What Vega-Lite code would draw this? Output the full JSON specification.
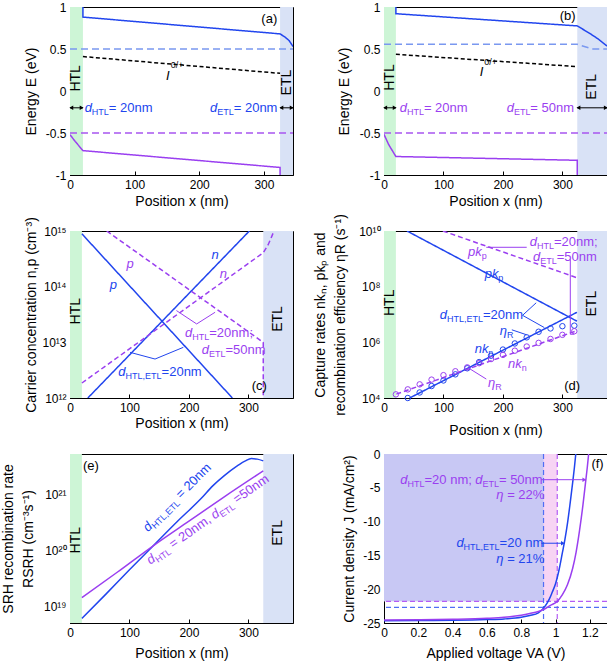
{
"$schema":"https://vega.github.io/schema/vega-lite/v6.json",
"background":"white",
"padding":0,
"autosize":{"type":"pad"},
"columns":2,
"spacing":{"row":56,"column":91},
"bounds":"flush",
"config":{
 "font":"Liberation Sans",
 "view":{"stroke":"#000","strokeWidth":1},
 "axis":{"grid":false,"labelFontSize":12,"titleFontSize":14,"titleFontWeight":"normal","labelColor":"#000","titleColor":"#000","tickColor":"#000","domainColor":"#000","tickSize":-4,"labelPadding":8,"titlePadding":3,"labelFlush":false,"labelOverlap":false,"titleLineHeight":20},
 "axisX":{"labelOverlap":false},
 "axisY":{"labelOverlap":false},
 "text":{"font":"Liberation Sans"}
},
"datasets":{
 "reg_a":[{"x":0,"x2":20,"r":"HTL"},{"x":325,"x2":345,"r":"ETL"}],
 "reg_b":[{"x":0,"x2":20,"r":"HTL"},{"x":325,"x2":375,"r":"ETL"}],
 "ln_a":[{"s":"Ec","i":0,"x":20,"y":1.0},{"s":"Ec","i":1,"x":20,"y":0.88},{"s":"Ec","i":2,"x":325,"y":0.68},{"s":"Ec","i":3,"x":333,"y":0.64},{"s":"Ec","i":4,"x":339,"y":0.6},{"s":"Ec","i":5,"x":345,"y":0.53},
  {"s":"EFn","i":0,"x":0,"y":0.5},{"s":"EFn","i":1,"x":345,"y":0.5},
  {"s":"trap","i":0,"x":20,"y":0.41},{"s":"trap","i":1,"x":325,"y":0.21},
  {"s":"EFp","i":0,"x":0,"y":-0.5},{"s":"EFp","i":1,"x":345,"y":-0.5},
  {"s":"Ev","i":0,"x":0,"y":-0.52},{"s":"Ev","i":1,"x":8,"y":-0.6},{"s":"Ev","i":2,"x":20,"y":-0.71},{"s":"Ev","i":3,"x":325,"y":-0.91},{"s":"Ev","i":4,"x":325,"y":-1.0}],
 "ln_b":[{"s":"Ec","i":0,"x":20,"y":1.0},{"s":"Ec","i":1,"x":20,"y":0.92},{"s":"Ec","i":2,"x":325,"y":0.775},{"s":"Ec","i":3,"x":345,"y":0.69},{"s":"Ec","i":4,"x":360,"y":0.62},{"s":"Ec","i":5,"x":375,"y":0.535},
  {"s":"EFn","i":0,"x":0,"y":0.556},{"s":"EFn","i":1,"x":325,"y":0.556},{"s":"EFn","i":2,"x":350,"y":0.5},{"s":"EFn","i":3,"x":375,"y":0.5},
  {"s":"trap","i":0,"x":20,"y":0.437},{"s":"trap","i":1,"x":325,"y":0.29},
  {"s":"EFp","i":0,"x":0,"y":-0.5},{"s":"EFp","i":1,"x":375,"y":-0.5},
  {"s":"Ev","i":0,"x":0,"y":-0.516},{"s":"Ev","i":1,"x":8,"y":-0.64},{"s":"Ev","i":2,"x":20,"y":-0.78},{"s":"Ev","i":3,"x":325,"y":-0.825},{"s":"Ev","i":4,"x":325,"y":-1.0}],
 "arr_a":[{"x":0,"x2":20,"y":-0.2},{"x":325,"x2":345,"y":-0.2}],
 "hd_a":[{"x":2,"y":-0.2,"d":"L"},{"x":18,"y":-0.2,"d":"R"},{"x":327,"y":-0.2,"d":"L"},{"x":343,"y":-0.2,"d":"R"}],
 "arr_b":[{"x":0,"x2":20,"y":-0.2},{"x":325,"x2":375,"y":-0.2}],
 "hd_b":[{"x":2,"y":-0.2,"d":"L"},{"x":18,"y":-0.2,"d":"R"},{"x":327,"y":-0.2,"d":"L"},{"x":373,"y":-0.2,"d":"R"}],
 "tx_a":[{"x":22.7,"y":-0.2,"t":"d","k":"i","g":"20nm"},{"x":33.8,"y":-0.2,"t":"HTL","k":"s","g":"20nm"},{"x":60.1,"y":-0.2,"t":"= 20nm","k":"m","g":"20nm"},
  {"x":216.7,"y":-0.2,"t":"d","k":"i","g":"20nm"},{"x":227.8,"y":-0.2,"t":"ETL","k":"s","g":"20nm"},{"x":253.3,"y":-0.2,"t":"= 20nm","k":"m","g":"20nm"},
  {"x":148.6,"y":0.18,"t":"I","k":"i","g":"other"},{"x":156,"y":0.31,"t":"0/+","k":"p","g":"other"},
  {"x":296,"y":0.853,"t":"(a)","k":"m","g":"other"}],
 "tx_b":[{"x":26.4,"y":-0.2,"t":"d","k":"i","g":"50nm"},{"x":38.5,"y":-0.2,"t":"HTL","k":"s","g":"50nm"},{"x":67.1,"y":-0.2,"t":"= 20nm","k":"m","g":"50nm"},
  {"x":206.3,"y":-0.2,"t":"d","k":"i","g":"50nm"},{"x":218.4,"y":-0.2,"t":"ETL","k":"s","g":"50nm"},{"x":246.1,"y":-0.2,"t":"= 50nm","k":"m","g":"50nm"},
  {"x":161,"y":0.23,"t":"I","k":"i","g":"other"},{"x":168.5,"y":0.35,"t":"0/+","k":"p","g":"other"},
  {"x":295.4,"y":0.89,"t":"(b)","k":"m","g":"other"}],
 "lay_a":[{"x":10,"y":0.15,"t":"HTL"},{"x":335,"y":0.1,"t":"ETL"}],
 "lay_b":[{"x":10,"y":0.16,"t":"HTL"},{"x":350,"y":0.05,"t":"ETL"}],
 "lay_c":[{"x":10,"y":3.63e13,"t":"HTL"},{"x":350,"y":2.63e13,"t":"ETL"}],
 "lay_d":[{"x":10,"y":2.63e7,"t":"HTL"},{"x":350,"y":2.45e7,"t":"ETL"}],
 "lay_e":[{"x":10,"y":1.55e20,"t":"HTL"},{"x":350,"y":2.09e20,"t":"ETL"}],
 "ln_c":[{"s":"p20","i":0,"x":20,"y":8.9e14},{"s":"p20","i":1,"x":273,"y":1e12},
  {"s":"n20","i":0,"x":30,"y":1e12},{"s":"n20","i":1,"x":301.6,"y":1e15},
  {"s":"p50","i":0,"x":61.7,"y":1e15},{"s":"p50","i":1,"x":325,"y":1e13},{"s":"p50","i":2,"x":325,"y":1e12},
  {"s":"n50","i":0,"x":20,"y":1.86e12},{"s":"n50","i":1,"x":325,"y":4.07e14},{"s":"n50","i":2,"x":333,"y":5.6e14},{"s":"n50","i":3,"x":338,"y":7.4e14},{"s":"n50","i":4,"x":343,"y":1e15}],
 "an_c":[{"seg":1,"g":"50nm","i":0,"x":179,"y":3.72e13},{"seg":1,"g":"50nm","i":1,"x":213,"y":2.14e13},{"seg":1,"g":"50nm","i":2,"x":244,"y":3.47e13},
  {"seg":2,"g":"20nm","i":0,"x":101,"y":6.61e12},{"seg":2,"g":"20nm","i":1,"x":143,"y":5.01e12},{"seg":2,"g":"20nm","i":2,"x":190.6,"y":8.13e12}],
 "tx_c":[{"x":237.8,"y":3.63e14,"t":"n","k":"i","g":"20nm"},{"x":66.9,"y":1.05e14,"t":"p","k":"i","g":"20nm"},
  {"x":94.9,"y":2.57e14,"t":"p","k":"i","g":"50nm"},{"x":251.8,"y":1.7e14,"t":"n","k":"i","g":"50nm"},
  {"x":193.4,"y":1.45e13,"t":"d","k":"i","g":"50nm"},{"x":205.6,"y":1.45e13,"t":"HTL","k":"s","g":"50nm"},{"x":234.2,"y":1.45e13,"t":"=20nm;","k":"m","g":"50nm"},
  {"x":221.4,"y":7.3e12,"t":"d","k":"i","g":"50nm"},{"x":233.6,"y":7.3e12,"t":"ETL","k":"s","g":"50nm"},{"x":261.3,"y":7.3e12,"t":"=50nm","k":"m","g":"50nm"},
  {"x":81.3,"y":2.88e12,"t":"d","k":"i","g":"20nm"},{"x":93.5,"y":2.88e12,"t":"HTL,ETL","k":"s","g":"20nm"},{"x":154,"y":2.88e12,"t":"=20nm","k":"m","g":"20nm"},
  {"x":305.5,"y":1.66e12,"t":"(c)","k":"m","g":"other"}],
 "ln_d":[{"s":"pk20","i":0,"x":38.7,"y":1e10},{"s":"pk20","i":1,"x":324.5,"y":5.75e6},
  {"s":"nk20","i":0,"x":43,"y":1e4},{"s":"nk20","i":1,"x":324.5,"y":1.2e7},
  {"s":"pk50","i":0,"x":99,"y":1e10},{"s":"pk50","i":1,"x":324.5,"y":2.09e8},
  {"s":"nk50","i":0,"x":20.7,"y":1.38e4},{"s":"nk50","i":1,"x":324.5,"y":2.63e6}],
 "an_d":[{"seg":1,"g":"20nm","i":0,"x":255.9,"y":2.63e7},{"seg":1,"g":"20nm","i":1,"x":233,"y":9.33e6},{"seg":1,"g":"20nm","i":2,"x":269.6,"y":3.39e6},
  {"seg":2,"g":"20nm","i":0,"x":215,"y":2.82e6},{"seg":2,"g":"20nm","i":1,"x":240,"y":1.86e6},
  {"seg":3,"g":"50nm","i":0,"x":172,"y":2.6e9},{"seg":3,"g":"50nm","i":1,"x":240,"y":2.6e9},
  {"seg":4,"g":"50nm","i":0,"x":313.3,"y":9.55e8},{"seg":4,"g":"50nm","i":1,"x":313.3,"y":1.95e6},{"seg":4,"g":"50nm","i":2,"x":320,"y":1.95e6},
  {"seg":5,"g":"50nm","i":0,"x":142,"y":1.2e5},{"seg":5,"g":"50nm","i":1,"x":172,"y":4.79e4}],
 "ci_d":[{"g":"20nm","x":40,"y":1e4},{"g":"20nm","x":60,"y":1.58e4},{"g":"20nm","x":80,"y":2.69e4},{"g":"20nm","x":100,"y":4.27e4},{"g":"20nm","x":120,"y":7.08e4},{"g":"20nm","x":140,"y":1.17e5},{"g":"20nm","x":160,"y":1.95e5},{"g":"20nm","x":180,"y":3.31e5},{"g":"20nm","x":200,"y":5.5e5},{"g":"20nm","x":220,"y":9.12e5},{"g":"20nm","x":240,"y":1.51e6},{"g":"20nm","x":260,"y":2.4e6},{"g":"20nm","x":280,"y":3.16e6},{"g":"20nm","x":300,"y":3.8e6},{"g":"20nm","x":320,"y":3.98e6},
  {"g":"50nm","x":20,"y":1.35e4},{"g":"50nm","x":40,"y":2.04e4},{"g":"50nm","x":60,"y":3.09e4},{"g":"50nm","x":80,"y":4.57e4},{"g":"50nm","x":100,"y":6.61e4},{"g":"50nm","x":120,"y":9.12e4},{"g":"50nm","x":140,"y":1.26e5},{"g":"50nm","x":160,"y":1.78e5},{"g":"50nm","x":180,"y":2.51e5},{"g":"50nm","x":200,"y":3.55e5},{"g":"50nm","x":220,"y":5.01e5},{"g":"50nm","x":240,"y":7.08e5},{"g":"50nm","x":260,"y":9.55e5},{"g":"50nm","x":280,"y":1.32e6},{"g":"50nm","x":300,"y":1.86e6},{"g":"50nm","x":320,"y":2.51e6}],
 "tx_d":[{"x":141.3,"y":1.74e9,"t":"pk","k":"i","g":"50nm"},{"x":164.3,"y":1.74e9,"t":"p","k":"s","g":"50nm"},
  {"x":169.3,"y":2.88e8,"t":"pk","k":"i","g":"20nm"},{"x":192.3,"y":2.88e8,"t":"p","k":"s","g":"20nm"},
  {"x":93.6,"y":9.77e6,"t":"d","k":"i","g":"20nm"},{"x":105.8,"y":9.77e6,"t":"HTL,ETL","k":"s","g":"20nm"},{"x":166.3,"y":9.77e6,"t":"=20nm","k":"m","g":"20nm"},
  {"x":194.5,"y":2.63e6,"t":"η","k":"i","g":"20nm"},{"x":206.7,"y":2.63e6,"t":"R","k":"s","g":"20nm"},
  {"x":152.5,"y":5.75e5,"t":"nk","k":"i","g":"20nm"},{"x":175.5,"y":5.75e5,"t":"n","k":"s","g":"20nm"},
  {"x":208.5,"y":1.66e5,"t":"nk","k":"i","g":"50nm"},{"x":231.5,"y":1.66e5,"t":"n","k":"s","g":"50nm"},
  {"x":175,"y":3.39e4,"t":"η","k":"i","g":"50nm"},{"x":187.2,"y":3.39e4,"t":"R","k":"s","g":"50nm"},
  {"x":245,"y":4.1e9,"t":"d","k":"i","g":"50nm"},{"x":257.2,"y":4.1e9,"t":"HTL","k":"s","g":"50nm"},{"x":285.8,"y":4.1e9,"t":"=20nm;","k":"m","g":"50nm"},
  {"x":250.6,"y":1.2e9,"t":"d","k":"i","g":"50nm"},{"x":262.8,"y":1.2e9,"t":"ETL","k":"s","g":"50nm"},{"x":290.5,"y":1.2e9,"t":"=50nm","k":"m","g":"50nm"},
  {"x":303,"y":2.75e4,"t":"(d)","k":"m","g":"other"}],
 "ln_e":[{"s":"r20","x":20,"y":6.17e18},{"s":"r20","x":60,"y":1.66e19},{"s":"r20","x":100,"y":4.57e19},{"s":"r20","x":140,"y":1.23e20},{"s":"r20","x":180,"y":3.31e20},{"s":"r20","x":220,"y":8.51e20},{"s":"r20","x":240,"y":1.45e21},{"s":"r20","x":260,"y":2.24e21},{"s":"r20","x":280,"y":3.24e21},{"s":"r20","x":295,"y":4.07e21},{"s":"r20","x":305,"y":4.47e21},{"s":"r20","x":315,"y":4.37e21},{"s":"r20","x":325,"y":4.07e21},
  {"s":"r50","x":20,"y":1.45e19},{"s":"r50","x":80,"y":4.17e19},{"s":"r50","x":140,"y":1.23e20},{"s":"r50","x":200,"y":3.39e20},{"s":"r50","x":260,"y":9.33e20},{"s":"r50","x":325,"y":2.69e21}],
 "te_e":[{"x":131,"y":2.14e20,"t":"d","k":"i","g":"20nm"},{"x":139.6,"y":2.64e20,"t":"HTL,ETL","k":"s","g":"20nm"},{"x":186.6,"y":8.37e20,"t":"= 20nm","k":"m","g":"20nm"},
  {"x":135,"y":5.62e19,"t":"d","k":"i","g":"50nm"},{"x":144.96,"y":6.67e19,"t":"HTL","k":"s","g":"50nm"},{"x":173.3,"y":1.09e20,"t":"= 20nm,","k":"m","g":"50nm"},
  {"x":243.2,"y":3.62e20,"t":"d","k":"i","g":"50nm"},{"x":253.1,"y":4.3e20,"t":"ETL","k":"s","g":"50nm"},{"x":280.8,"y":6.92e20,"t":"=50nm","k":"m","g":"50nm"}],
 "tx_e":[{"x":21.9,"y":3.31e21,"t":"(e)"}],
 "rc_f":[{"x":0,"x2":1.01,"y":-21.8,"y2":0,"r":"50nm"},{"x":0,"x2":0.93,"y":-21.8,"y2":0,"r":"20nm"}],
 "vr_f":[{"v":0.93,"g":"20nm"},{"v":1.01,"g":"50nm"}],
 "hr_f":[{"j":-22.7,"g":"20nm"},{"j":-21.8,"g":"50nm"}],
 "jv_f":[{"g":"20nm","x":0,"y":-24.65},{"g":"20nm","x":0.2,"y":-24.63},{"g":"20nm","x":0.4,"y":-24.6},{"g":"20nm","x":0.6,"y":-24.5},{"g":"20nm","x":0.7,"y":-24.4},{"g":"20nm","x":0.8,"y":-24.15},{"g":"20nm","x":0.85,"y":-23.9},{"g":"20nm","x":0.9,"y":-23.5},{"g":"20nm","x":0.93,"y":-22.8},{"g":"20nm","x":0.95,"y":-22.1},{"g":"20nm","x":0.965,"y":-21.4},{"g":"20nm","x":0.98,"y":-20.5},{"g":"20nm","x":1.0,"y":-19.2},{"g":"20nm","x":1.02,"y":-17.2},{"g":"20nm","x":1.04,"y":-14.6},{"g":"20nm","x":1.055,"y":-12.6},{"g":"20nm","x":1.07,"y":-10.2},{"g":"20nm","x":1.085,"y":-7.3},{"g":"20nm","x":1.1,"y":-4.2},{"g":"20nm","x":1.11,"y":-2.0},{"g":"20nm","x":1.118,"y":0},
  {"g":"50nm","x":0,"y":-24.55},{"g":"50nm","x":0.2,"y":-24.53},{"g":"50nm","x":0.4,"y":-24.45},{"g":"50nm","x":0.6,"y":-24.3},{"g":"50nm","x":0.7,"y":-24.15},{"g":"50nm","x":0.8,"y":-23.85},{"g":"50nm","x":0.85,"y":-23.6},{"g":"50nm","x":0.9,"y":-23.3},{"g":"50nm","x":0.93,"y":-23.0},{"g":"50nm","x":0.97,"y":-22.4},{"g":"50nm","x":1.01,"y":-21.8},{"g":"50nm","x":1.04,"y":-20.8},{"g":"50nm","x":1.07,"y":-19.3},{"g":"50nm","x":1.1,"y":-16.9},{"g":"50nm","x":1.12,"y":-14.5},{"g":"50nm","x":1.14,"y":-11.3},{"g":"50nm","x":1.16,"y":-7.5},{"g":"50nm","x":1.175,"y":-4.2},{"g":"50nm","x":1.185,"y":-2.0},{"g":"50nm","x":1.193,"y":0}],
 "ar_f":[{"x":0.917,"x2":1.165,"y":-3.8,"g":"50nm"},{"x":0.917,"x2":1.04,"y":-13.2,"g":"20nm"}],
 "hd_f":[{"x":1.168,"y":-3.8,"g":"50nm"},{"x":1.043,"y":-13.2,"g":"20nm"}],
 "tx_f":[{"x":0.095,"y":-3.8,"t":"d","k":"i","g":"50nm"},{"x":0.137,"y":-3.8,"t":"HTL","k":"s","g":"50nm"},{"x":0.236,"y":-3.8,"t":"=20 nm;","k":"m","g":"50nm"},
  {"x":0.532,"y":-3.8,"t":"d","k":"i","g":"50nm"},{"x":0.574,"y":-3.8,"t":"ETL","k":"s","g":"50nm"},{"x":0.67,"y":-3.8,"t":"= 50nm","k":"m","g":"50nm"},
  {"x":0.655,"y":-6.1,"t":"η","k":"i","g":"50nm"},{"x":0.718,"y":-6.1,"t":"= 22%","k":"m","g":"50nm"},
  {"x":0.422,"y":-13.2,"t":"d","k":"i","g":"20nm"},{"x":0.464,"y":-13.2,"t":"HTL,ETL","k":"s","g":"20nm"},{"x":0.674,"y":-13.2,"t":"=20 nm","k":"m","g":"20nm"},
  {"x":0.655,"y":-15.6,"t":"η","k":"i","g":"20nm"},{"x":0.718,"y":-15.6,"t":"= 21%","k":"m","g":"20nm"},
  {"x":1.209,"y":-1.5,"t":"(f)","k":"m","g":"other"}]
},
"concat":[
 {"width":223,"height":168,
  "resolve":{"scale":{"color":"independent","strokeDash":"independent","shape":"independent"}},
  "layer":[
   {"data":{"name":"reg_a"},"mark":{"type":"rect"},"encoding":{"x":{"field":"x","type":"quantitative","scale":{"domain":[0,345],"nice":false,"zero":false},"axis":{"values":[0,50,100,150,200,250,300],"labelExpr":"datum.value % 100 === 0 ? datum.label : ''","labelOverlap":false,"title":"Position x (nm)","titleY":19}},"x2":{"field":"x2"},"color":{"field":"r","type":"nominal","scale":{"domain":["HTL","ETL"],"range":["#cdf5d6","#d9e2f6"]},"legend":null}}},
   {"data":{"name":"ln_a"},"mark":{"type":"line","strokeWidth":1.5,"clip":true},"encoding":{"x":{"field":"x","type":"quantitative"},"y":{"field":"y","type":"quantitative","scale":{"domain":[-1,1],"nice":false,"zero":false},"axis":{"values":[-1,-0.75,-0.5,-0.25,0,0.25,0.5,0.75,1],"format":"~g","labelExpr":"(datum.value*2) % 1 === 0 ? replace(datum.label,'−','-') : ''","labelOverlap":false,"title":"Energy E (eV)","titleX":-32}},"order":{"field":"i","type":"quantitative"},"color":{"field":"s","type":"nominal","scale":{"domain":["Ec","Ev","EFn","EFp","trap"],"range":["#2145ee","#9a3ff0","#7a98f0","#a855f0","#000000"]},"legend":null},"strokeDash":{"field":"s","type":"nominal","scale":{"domain":["Ec","Ev","EFn","EFp","trap"],"range":[[1,0],[1,0],[7,4],[7,4],[4,2.5]]},"legend":null}}},
   {"data":{"name":"arr_a"},"mark":{"type":"rule","color":"#000","strokeWidth":1},"encoding":{"x":{"field":"x","type":"quantitative"},"x2":{"field":"x2"},"y":{"field":"y","type":"quantitative"}}},
   {"data":{"name":"hd_a"},"mark":{"type":"point","filled":true,"color":"#000","size":20,"opacity":1},"encoding":{"x":{"field":"x","type":"quantitative"},"y":{"field":"y","type":"quantitative"},"shape":{"field":"d","type":"nominal","scale":{"domain":["L","R"],"range":["triangle-left","triangle-right"]},"legend":null}}},
   {"data":{"name":"tx_a"},"transform":[{"filter":"datum.k==='i'"}],"mark":{"type":"text","align":"left","baseline":"middle","fontSize":13,"fontStyle":"italic"},"encoding":{"x":{"field":"x","type":"quantitative"},"y":{"field":"y","type":"quantitative"},"text":{"field":"t","type":"nominal"},"color":{"field":"g","type":"nominal","scale":{"domain":["20nm","50nm","other"],"range":["#2145ee","#9a3ff0","#000000"]},"legend":null}}},
   {"data":{"name":"tx_a"},"transform":[{"filter":"datum.k==='m'"}],"mark":{"type":"text","align":"left","baseline":"middle","fontSize":13},"encoding":{"x":{"field":"x","type":"quantitative"},"y":{"field":"y","type":"quantitative"},"text":{"field":"t","type":"nominal"},"color":{"field":"g","type":"nominal","scale":{"domain":["20nm","50nm","other"],"range":["#2145ee","#9a3ff0","#000000"]},"legend":null}}},
   {"data":{"name":"tx_a"},"transform":[{"filter":"datum.k==='s'"}],"mark":{"type":"text","align":"left","baseline":"middle","fontSize":9,"dy":4},"encoding":{"x":{"field":"x","type":"quantitative"},"y":{"field":"y","type":"quantitative"},"text":{"field":"t","type":"nominal"},"color":{"field":"g","type":"nominal","scale":{"domain":["20nm","50nm","other"],"range":["#2145ee","#9a3ff0","#000000"]},"legend":null}}},
   {"data":{"name":"tx_a"},"transform":[{"filter":"datum.k==='p'"}],"mark":{"type":"text","align":"left","baseline":"middle","fontSize":9},"encoding":{"x":{"field":"x","type":"quantitative"},"y":{"field":"y","type":"quantitative"},"text":{"field":"t","type":"nominal"},"color":{"field":"g","type":"nominal","scale":{"domain":["20nm","50nm","other"],"range":["#2145ee","#9a3ff0","#000000"]},"legend":null}}},
   {"data":{"name":"lay_a"},"mark":{"type":"text","angle":270,"fontSize":14,"align":"center","baseline":"middle","color":"#000"},"encoding":{"x":{"field":"x","type":"quantitative"},"y":{"field":"y","type":"quantitative"},"text":{"field":"t","type":"nominal"}}}
  ]},
 {"width":223,"height":168,
  "resolve":{"scale":{"color":"independent","strokeDash":"independent","shape":"independent"}},
  "layer":[
   {"data":{"name":"reg_b"},"mark":{"type":"rect"},"encoding":{"x":{"field":"x","type":"quantitative","scale":{"domain":[0,375],"nice":false,"zero":false},"axis":{"values":[0,50,100,150,200,250,300,350],"labelExpr":"datum.value % 100 === 0 ? datum.label : ''","labelOverlap":false,"title":"Position x (nm)","titleY":19}},"x2":{"field":"x2"},"color":{"field":"r","type":"nominal","scale":{"domain":["HTL","ETL"],"range":["#cdf5d6","#d9e2f6"]},"legend":null}}},
   {"data":{"name":"ln_b"},"mark":{"type":"line","strokeWidth":1.5,"clip":true},"encoding":{"x":{"field":"x","type":"quantitative"},"y":{"field":"y","type":"quantitative","scale":{"domain":[-1,1],"nice":false,"zero":false},"axis":{"values":[-1,-0.75,-0.5,-0.25,0,0.25,0.5,0.75,1],"format":"~g","labelExpr":"(datum.value*2) % 1 === 0 ? replace(datum.label,'−','-') : ''","labelOverlap":false,"title":"Energy E (eV)","titleX":-33}},"order":{"field":"i","type":"quantitative"},"color":{"field":"s","type":"nominal","scale":{"domain":["Ec","Ev","EFn","EFp","trap"],"range":["#2145ee","#9a3ff0","#7a98f0","#a855f0","#000000"]},"legend":null},"strokeDash":{"field":"s","type":"nominal","scale":{"domain":["Ec","Ev","EFn","EFp","trap"],"range":[[1,0],[1,0],[7,4],[7,4],[4,2.5]]},"legend":null}}},
   {"data":{"name":"arr_b"},"mark":{"type":"rule","color":"#000","strokeWidth":1},"encoding":{"x":{"field":"x","type":"quantitative"},"x2":{"field":"x2"},"y":{"field":"y","type":"quantitative"}}},
   {"data":{"name":"hd_b"},"mark":{"type":"point","filled":true,"color":"#000","size":20,"opacity":1},"encoding":{"x":{"field":"x","type":"quantitative"},"y":{"field":"y","type":"quantitative"},"shape":{"field":"d","type":"nominal","scale":{"domain":["L","R"],"range":["triangle-left","triangle-right"]},"legend":null}}},
   {"data":{"name":"tx_b"},"transform":[{"filter":"datum.k==='i'"}],"mark":{"type":"text","align":"left","baseline":"middle","fontSize":13,"fontStyle":"italic"},"encoding":{"x":{"field":"x","type":"quantitative"},"y":{"field":"y","type":"quantitative"},"text":{"field":"t","type":"nominal"},"color":{"field":"g","type":"nominal","scale":{"domain":["20nm","50nm","other"],"range":["#2145ee","#9a3ff0","#000000"]},"legend":null}}},
   {"data":{"name":"tx_b"},"transform":[{"filter":"datum.k==='m'"}],"mark":{"type":"text","align":"left","baseline":"middle","fontSize":13},"encoding":{"x":{"field":"x","type":"quantitative"},"y":{"field":"y","type":"quantitative"},"text":{"field":"t","type":"nominal"},"color":{"field":"g","type":"nominal","scale":{"domain":["20nm","50nm","other"],"range":["#2145ee","#9a3ff0","#000000"]},"legend":null}}},
   {"data":{"name":"tx_b"},"transform":[{"filter":"datum.k==='s'"}],"mark":{"type":"text","align":"left","baseline":"middle","fontSize":9,"dy":4},"encoding":{"x":{"field":"x","type":"quantitative"},"y":{"field":"y","type":"quantitative"},"text":{"field":"t","type":"nominal"},"color":{"field":"g","type":"nominal","scale":{"domain":["20nm","50nm","other"],"range":["#2145ee","#9a3ff0","#000000"]},"legend":null}}},
   {"data":{"name":"tx_b"},"transform":[{"filter":"datum.k==='p'"}],"mark":{"type":"text","align":"left","baseline":"middle","fontSize":9},"encoding":{"x":{"field":"x","type":"quantitative"},"y":{"field":"y","type":"quantitative"},"text":{"field":"t","type":"nominal"},"color":{"field":"g","type":"nominal","scale":{"domain":["20nm","50nm","other"],"range":["#2145ee","#9a3ff0","#000000"]},"legend":null}}},
   {"data":{"name":"lay_b"},"mark":{"type":"text","angle":270,"fontSize":14,"align":"center","baseline":"middle","color":"#000"},"encoding":{"x":{"field":"x","type":"quantitative"},"y":{"field":"y","type":"quantitative"},"text":{"field":"t","type":"nominal"}}}
  ]},
 {"width":223,"height":167,
  "resolve":{"scale":{"color":"independent","strokeDash":"independent"}},
  "layer":[
   {"data":{"name":"reg_b"},"mark":{"type":"rect"},"encoding":{"x":{"field":"x","type":"quantitative","scale":{"domain":[0,375],"nice":false,"zero":false},"axis":{"values":[0,50,100,150,200,250,300,350],"labelExpr":"datum.value % 100 === 0 ? datum.label : ''","labelOverlap":false,"title":"Position x (nm)","titleY":18}},"x2":{"field":"x2"},"color":{"field":"r","type":"nominal","scale":{"domain":["HTL","ETL"],"range":["#cdf5d6","#d9e2f6"]},"legend":null}}},
   {"data":{"name":"ln_c"},"mark":{"type":"line","strokeWidth":1.5,"clip":true},"encoding":{"x":{"field":"x","type":"quantitative"},"y":{"field":"y","type":"quantitative","scale":{"type":"log","domain":[1e12,1e15],"nice":false},"axis":{"values":[1e12,1e13,1e14,1e15],"labelOverlap":false,"labelExpr":"'10' + replace(replace(replace(replace(replace(replace(replace(replace(format(log(datum.value)/LN10,'.0f'),'0','⁰'),'1','¹'),'2','²'),'4','⁴'),'5','⁵'),'6','⁶'),'8','⁸'),'9','⁹')","title":"Carrier concentration n,p (cm⁻³)","titleX":-32}},"order":{"field":"i","type":"quantitative"},"color":{"field":"s","type":"nominal","scale":{"domain":["p20","n20","p50","n50"],"range":["#2145ee","#2145ee","#9a3ff0","#9a3ff0"]},"legend":null},"strokeDash":{"field":"s","type":"nominal","scale":{"domain":["p20","n20","p50","n50"],"range":[[1,0],[1,0],[5,3],[5,3]]},"legend":null}}},
   {"data":{"name":"an_c"},"mark":{"type":"line","strokeWidth":1,"clip":true},"encoding":{"x":{"field":"x","type":"quantitative"},"y":{"field":"y","type":"quantitative"},"order":{"field":"i","type":"quantitative"},"color":{"field":"g","type":"nominal","scale":{"domain":["20nm","50nm"],"range":["#2145ee","#9a3ff0"]},"legend":null}}},
   {"data":{"name":"tx_c"},"transform":[{"filter":"datum.k==='i'"}],"mark":{"type":"text","align":"left","baseline":"middle","fontSize":13,"fontStyle":"italic"},"encoding":{"x":{"field":"x","type":"quantitative"},"y":{"field":"y","type":"quantitative"},"text":{"field":"t","type":"nominal"},"color":{"field":"g","type":"nominal","scale":{"domain":["20nm","50nm","other"],"range":["#2145ee","#9a3ff0","#000000"]},"legend":null}}},
   {"data":{"name":"tx_c"},"transform":[{"filter":"datum.k==='m'"}],"mark":{"type":"text","align":"left","baseline":"middle","fontSize":13},"encoding":{"x":{"field":"x","type":"quantitative"},"y":{"field":"y","type":"quantitative"},"text":{"field":"t","type":"nominal"},"color":{"field":"g","type":"nominal","scale":{"domain":["20nm","50nm","other"],"range":["#2145ee","#9a3ff0","#000000"]},"legend":null}}},
   {"data":{"name":"tx_c"},"transform":[{"filter":"datum.k==='s'"}],"mark":{"type":"text","align":"left","baseline":"middle","fontSize":9,"dy":4},"encoding":{"x":{"field":"x","type":"quantitative"},"y":{"field":"y","type":"quantitative"},"text":{"field":"t","type":"nominal"},"color":{"field":"g","type":"nominal","scale":{"domain":["20nm","50nm","other"],"range":["#2145ee","#9a3ff0","#000000"]},"legend":null}}},
   {"data":{"name":"lay_c"},"mark":{"type":"text","angle":270,"fontSize":14,"align":"center","baseline":"middle","color":"#000"},"encoding":{"x":{"field":"x","type":"quantitative"},"y":{"field":"y","type":"quantitative"},"text":{"field":"t","type":"nominal"}}}
  ]},
 {"width":223,"height":167,
  "resolve":{"scale":{"color":"independent","strokeDash":"independent"}},
  "layer":[
   {"data":{"name":"reg_b"},"mark":{"type":"rect"},"encoding":{"x":{"field":"x","type":"quantitative","scale":{"domain":[0,375],"nice":false,"zero":false},"axis":{"values":[0,50,100,150,200,250,300,350],"labelExpr":"datum.value % 100 === 0 ? datum.label : ''","labelOverlap":false,"title":"Position x (nm)","titleY":25}},"x2":{"field":"x2"},"color":{"field":"r","type":"nominal","scale":{"domain":["HTL","ETL"],"range":["#cdf5d6","#d9e2f6"]},"legend":null}}},
   {"data":{"name":"ln_d"},"mark":{"type":"line","strokeWidth":1.5,"clip":true},"encoding":{"x":{"field":"x","type":"quantitative"},"y":{"field":"y","type":"quantitative","scale":{"type":"log","domain":[1e4,1e10],"nice":false},"axis":{"values":[1e4,1e5,1e6,1e7,1e8,1e9,1e10],"labelOverlap":false,"labelExpr":"round(log(datum.value)/LN10) % 2 === 0 ? '10' + replace(replace(replace(replace(replace(replace(replace(replace(format(log(datum.value)/LN10,'.0f'),'0','⁰'),'1','¹'),'2','²'),'4','⁴'),'5','⁵'),'6','⁶'),'8','⁸'),'9','⁹') : ''","title":["Capture rates nkₙ, pkₚ and","recombination efficiency ηR (s⁻¹)"],"titleX":-57}},"order":{"field":"i","type":"quantitative"},"color":{"field":"s","type":"nominal","scale":{"domain":["pk20","nk20","pk50","nk50"],"range":["#2145ee","#2145ee","#9a3ff0","#9a3ff0"]},"legend":null},"strokeDash":{"field":"s","type":"nominal","scale":{"domain":["pk20","nk20","pk50","nk50"],"range":[[1,0],[1,0],[5,3],[5,3]]},"legend":null}}},
   {"data":{"name":"an_d"},"mark":{"type":"line","strokeWidth":1,"clip":true},"encoding":{"x":{"field":"x","type":"quantitative"},"y":{"field":"y","type":"quantitative"},"detail":{"field":"seg","type":"nominal"},"order":{"field":"i","type":"quantitative"},"color":{"field":"g","type":"nominal","scale":{"domain":["20nm","50nm"],"range":["#2145ee","#9a3ff0"]},"legend":null}}},
   {"data":{"name":"ci_d"},"mark":{"type":"point","filled":false,"size":30,"strokeWidth":1,"opacity":1},"encoding":{"x":{"field":"x","type":"quantitative"},"y":{"field":"y","type":"quantitative"},"color":{"field":"g","type":"nominal","scale":{"domain":["20nm","50nm"],"range":["#2145ee","#9a3ff0"]},"legend":null}}},
   {"data":{"name":"tx_d"},"transform":[{"filter":"datum.k==='i'"}],"mark":{"type":"text","align":"left","baseline":"middle","fontSize":13,"fontStyle":"italic"},"encoding":{"x":{"field":"x","type":"quantitative"},"y":{"field":"y","type":"quantitative"},"text":{"field":"t","type":"nominal"},"color":{"field":"g","type":"nominal","scale":{"domain":["20nm","50nm","other"],"range":["#2145ee","#9a3ff0","#000000"]},"legend":null}}},
   {"data":{"name":"tx_d"},"transform":[{"filter":"datum.k==='m'"}],"mark":{"type":"text","align":"left","baseline":"middle","fontSize":13},"encoding":{"x":{"field":"x","type":"quantitative"},"y":{"field":"y","type":"quantitative"},"text":{"field":"t","type":"nominal"},"color":{"field":"g","type":"nominal","scale":{"domain":["20nm","50nm","other"],"range":["#2145ee","#9a3ff0","#000000"]},"legend":null}}},
   {"data":{"name":"tx_d"},"transform":[{"filter":"datum.k==='s'"}],"mark":{"type":"text","align":"left","baseline":"middle","fontSize":9,"dy":4},"encoding":{"x":{"field":"x","type":"quantitative"},"y":{"field":"y","type":"quantitative"},"text":{"field":"t","type":"nominal"},"color":{"field":"g","type":"nominal","scale":{"domain":["20nm","50nm","other"],"range":["#2145ee","#9a3ff0","#000000"]},"legend":null}}},
   {"data":{"name":"lay_d"},"mark":{"type":"text","angle":270,"fontSize":14,"align":"center","baseline":"middle","color":"#000"},"encoding":{"x":{"field":"x","type":"quantitative"},"y":{"field":"y","type":"quantitative"},"text":{"field":"t","type":"nominal"}}}
  ]},
 {"width":223,"height":169,
  "resolve":{"scale":{"color":"independent"}},
  "layer":[
   {"data":{"name":"reg_b"},"mark":{"type":"rect"},"encoding":{"x":{"field":"x","type":"quantitative","scale":{"domain":[0,375],"nice":false,"zero":false},"axis":{"values":[0,50,100,150,200,250,300,350],"labelExpr":"datum.value % 100 === 0 ? datum.label : ''","labelOverlap":false,"title":"Position x (nm)","titleY":23}},"x2":{"field":"x2"},"color":{"field":"r","type":"nominal","scale":{"domain":["HTL","ETL"],"range":["#cdf5d6","#d9e2f6"]},"legend":null}}},
   {"data":{"name":"ln_e"},"mark":{"type":"line","strokeWidth":1.5,"clip":true,"interpolate":"monotone"},"encoding":{"x":{"field":"x","type":"quantitative"},"y":{"field":"y","type":"quantitative","scale":{"type":"log","domain":[5.1e18,5.4e21],"nice":false},"axis":{"values":[1e19,1e20,1e21],"labelOverlap":false,"labelExpr":"'10' + replace(replace(replace(replace(replace(replace(replace(replace(format(log(datum.value)/LN10,'.0f'),'0','⁰'),'1','¹'),'2','²'),'4','⁴'),'5','⁵'),'6','⁶'),'8','⁸'),'9','⁹')","title":["SRH recombination rate","RSRH (cm⁻³s⁻¹)"],"titleX":-55}},"color":{"field":"s","type":"nominal","scale":{"domain":["r20","r50"],"range":["#2145ee","#9a3ff0"]},"legend":null}}},
   {"data":{"name":"te_e"},"transform":[{"filter":"datum.g==='20nm' && datum.k==='i'"}],"mark":{"type":"text","align":"left","baseline":"alphabetic","fontSize":13,"fontStyle":"italic","angle":315,"color":"#2145ee"},"encoding":{"x":{"field":"x","type":"quantitative"},"y":{"field":"y","type":"quantitative"},"text":{"field":"t","type":"nominal"}}},
   {"data":{"name":"te_e"},"transform":[{"filter":"datum.g==='20nm' && datum.k==='m'"}],"mark":{"type":"text","align":"left","baseline":"alphabetic","fontSize":13,"angle":315,"color":"#2145ee"},"encoding":{"x":{"field":"x","type":"quantitative"},"y":{"field":"y","type":"quantitative"},"text":{"field":"t","type":"nominal"}}},
   {"data":{"name":"te_e"},"transform":[{"filter":"datum.g==='20nm' && datum.k==='s'"}],"mark":{"type":"text","align":"left","baseline":"alphabetic","fontSize":9,"dy":3,"angle":315,"color":"#2145ee"},"encoding":{"x":{"field":"x","type":"quantitative"},"y":{"field":"y","type":"quantitative"},"text":{"field":"t","type":"nominal"}}},
   {"data":{"name":"te_e"},"transform":[{"filter":"datum.g==='50nm' && datum.k==='i'"}],"mark":{"type":"text","align":"left","baseline":"alphabetic","fontSize":13,"fontStyle":"italic","angle":325,"color":"#9a3ff0"},"encoding":{"x":{"field":"x","type":"quantitative"},"y":{"field":"y","type":"quantitative"},"text":{"field":"t","type":"nominal"}}},
   {"data":{"name":"te_e"},"transform":[{"filter":"datum.g==='50nm' && datum.k==='m'"}],"mark":{"type":"text","align":"left","baseline":"alphabetic","fontSize":13,"angle":325,"color":"#9a3ff0"},"encoding":{"x":{"field":"x","type":"quantitative"},"y":{"field":"y","type":"quantitative"},"text":{"field":"t","type":"nominal"}}},
   {"data":{"name":"te_e"},"transform":[{"filter":"datum.g==='50nm' && datum.k==='s'"}],"mark":{"type":"text","align":"left","baseline":"alphabetic","fontSize":9,"dy":3,"angle":325,"color":"#9a3ff0"},"encoding":{"x":{"field":"x","type":"quantitative"},"y":{"field":"y","type":"quantitative"},"text":{"field":"t","type":"nominal"}}},
   {"data":{"name":"tx_e"},"mark":{"type":"text","align":"left","baseline":"middle","fontSize":13,"color":"#000"},"encoding":{"x":{"field":"x","type":"quantitative"},"y":{"field":"y","type":"quantitative"},"text":{"field":"t","type":"nominal"}}},
   {"data":{"name":"lay_e"},"mark":{"type":"text","angle":270,"fontSize":14,"align":"center","baseline":"middle","color":"#000"},"encoding":{"x":{"field":"x","type":"quantitative"},"y":{"field":"y","type":"quantitative"},"text":{"field":"t","type":"nominal"}}}
  ]},
 {"width":223,"height":169,
  "resolve":{"scale":{"color":"independent"}},
  "layer":[
   {"data":{"name":"rc_f"},"mark":{"type":"rect"},"encoding":{"x":{"field":"x","type":"quantitative","scale":{"domain":[0,1.3],"nice":false,"zero":false},"axis":{"tickCount":7,"format":"~g","labelOverlap":false,"labelSeparation":-300,"title":"Applied voltage VA (V)","titleY":23}},"x2":{"field":"x2"},"y":{"field":"y","type":"quantitative","scale":{"domain":[-25,0],"nice":false,"zero":false},"axis":{"tickCount":6,"labelExpr":"datum.value < 0 ? '-' + format(-datum.value,'~g') : '0'","labelOverlap":false,"labelSeparation":-300,"title":"Current density J (mA/cm²)","titleX":-28}},"y2":{"field":"y2"},"color":{"field":"r","type":"nominal","scale":{"domain":["50nm","20nm"],"range":["#f7d4f4","#c8c8f4"]},"legend":null}}},
   {"data":{"name":"vr_f"},"transform":[{"filter":"datum.g==='20nm'"}],"mark":{"type":"rule","strokeDash":[5,3],"strokeWidth":1.2,"color":"#4f6ef5"},"encoding":{"x":{"field":"v","type":"quantitative"}}},
   {"data":{"name":"vr_f"},"transform":[{"filter":"datum.g==='50nm'"}],"mark":{"type":"rule","strokeDash":[5,3],"strokeWidth":1.2,"color":"#b45cf5"},"encoding":{"x":{"field":"v","type":"quantitative"}}},
   {"data":{"name":"hr_f"},"transform":[{"filter":"datum.g==='20nm'"}],"mark":{"type":"rule","strokeDash":[5,3],"strokeWidth":1.2,"color":"#4f6ef5"},"encoding":{"y":{"field":"j","type":"quantitative"}}},
   {"data":{"name":"hr_f"},"transform":[{"filter":"datum.g==='50nm'"}],"mark":{"type":"rule","strokeDash":[5,3],"strokeWidth":1.2,"color":"#b45cf5"},"encoding":{"y":{"field":"j","type":"quantitative"}}},
   {"data":{"name":"jv_f"},"mark":{"type":"line","strokeWidth":1.5,"clip":true,"interpolate":"monotone"},"encoding":{"x":{"field":"x","type":"quantitative"},"y":{"field":"y","type":"quantitative"},"color":{"field":"g","type":"nominal","scale":{"domain":["20nm","50nm"],"range":["#2145ee","#9a3ff0"]},"legend":null}}},
   {"data":{"name":"ar_f"},"mark":{"type":"rule","strokeWidth":1},"encoding":{"x":{"field":"x","type":"quantitative"},"x2":{"field":"x2"},"y":{"field":"y","type":"quantitative"},"color":{"field":"g","type":"nominal","scale":{"domain":["20nm","50nm"],"range":["#2145ee","#9a3ff0"]},"legend":null}}},
   {"data":{"name":"hd_f"},"mark":{"type":"point","filled":true,"shape":"triangle-right","size":20,"opacity":1},"encoding":{"x":{"field":"x","type":"quantitative"},"y":{"field":"y","type":"quantitative"},"color":{"field":"g","type":"nominal","scale":{"domain":["20nm","50nm"],"range":["#2145ee","#9a3ff0"]},"legend":null}}},
   {"data":{"name":"tx_f"},"transform":[{"filter":"datum.k==='i'"}],"mark":{"type":"text","align":"left","baseline":"middle","fontSize":13,"fontStyle":"italic"},"encoding":{"x":{"field":"x","type":"quantitative"},"y":{"field":"y","type":"quantitative"},"text":{"field":"t","type":"nominal"},"color":{"field":"g","type":"nominal","scale":{"domain":["20nm","50nm","other"],"range":["#2145ee","#9a3ff0","#000000"]},"legend":null}}},
   {"data":{"name":"tx_f"},"transform":[{"filter":"datum.k==='m'"}],"mark":{"type":"text","align":"left","baseline":"middle","fontSize":13},"encoding":{"x":{"field":"x","type":"quantitative"},"y":{"field":"y","type":"quantitative"},"text":{"field":"t","type":"nominal"},"color":{"field":"g","type":"nominal","scale":{"domain":["20nm","50nm","other"],"range":["#2145ee","#9a3ff0","#000000"]},"legend":null}}},
   {"data":{"name":"tx_f"},"transform":[{"filter":"datum.k==='s'"}],"mark":{"type":"text","align":"left","baseline":"middle","fontSize":9,"dy":4},"encoding":{"x":{"field":"x","type":"quantitative"},"y":{"field":"y","type":"quantitative"},"text":{"field":"t","type":"nominal"},"color":{"field":"g","type":"nominal","scale":{"domain":["20nm","50nm","other"],"range":["#2145ee","#9a3ff0","#000000"]},"legend":null}}}
  ]}
]
}
